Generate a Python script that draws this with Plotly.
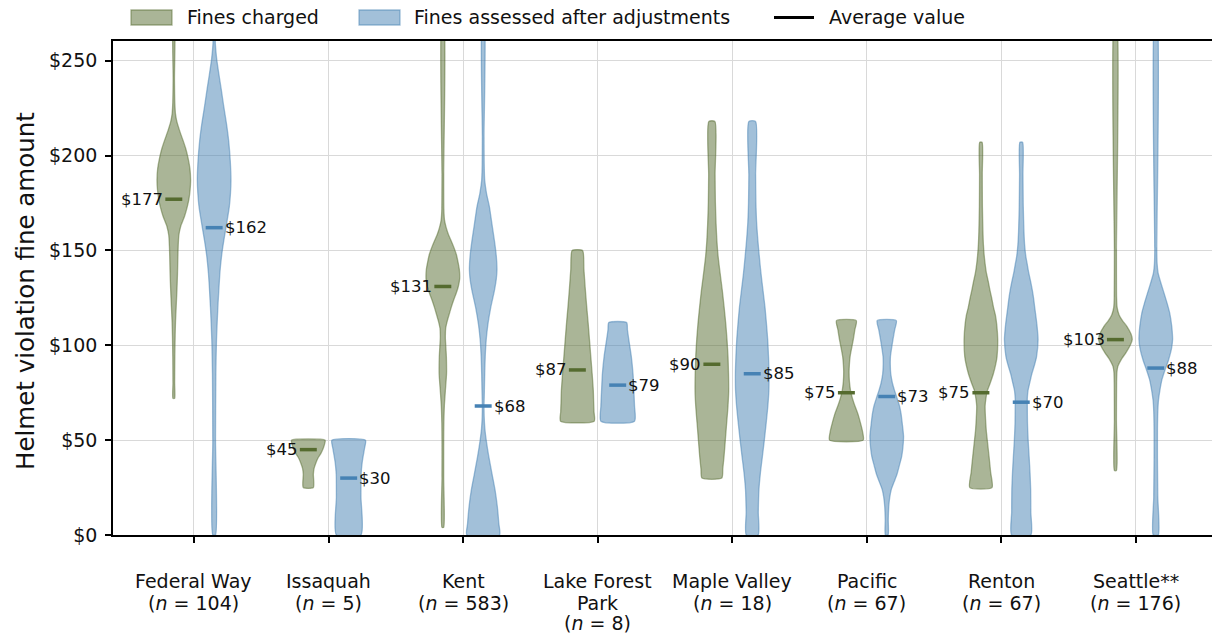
import plotly.graph_objects as go

# Cities along the x axis, with sample sizes
CITIES = ["Federal Way", "Issaquah", "Kent", "Lake Forest|Park", "Maple Valley",
          "Pacific", "Renton", "Seattle**"]
SAMPLE_N = [104, 5, 583, 8, 18, 67, 67, 176]

# Average fine per city
CHARGED_MEAN = [177, 45, 131, 87, 90, 75, 75, 103]
ADJUSTED_MEAN = [162, 30, 68, 79, 85, 73, 70, 88]

# Density profiles: (fine amount, relative density) pairs, densest point = 1
FEDERAL_WAY_CHARGED = [(72, 0.05), (80, 0.05), (94, 0.06), (105, 0.08), (112, 0.1), (120, 0.14),
                       (130, 0.19), (138, 0.22), (146, 0.24), (152, 0.26), (158, 0.3), (163, 0.42),
                       (168, 0.64), (173, 0.8), (177, 0.9), (182, 0.97), (187, 1.0), (193, 0.96),
                       (199, 0.84), (204, 0.7), (208, 0.55), (213, 0.35), (218, 0.18), (222, 0.1),
                       (228, 0.06), (240, 0.04), (275, 0.035)]
FEDERAL_WAY_ADJUSTED = [(0, 0.08), (50, 0.08), (85, 0.1), (103, 0.14), (120, 0.22), (138, 0.34),
                        (147, 0.44), (155, 0.57), (164, 0.74), (173, 0.9), (180, 0.97), (187, 1.0),
                        (197, 0.96), (208, 0.86), (217, 0.73), (226, 0.57), (235, 0.42), (243, 0.28),
                        (251, 0.15), (259, 0.07), (275, 0.03)]
ISSAQUAH_CHARGED = [(25, 0.3), (32, 0.3), (35, 0.34), (38, 0.45), (41, 0.6), (43, 0.75), (46, 0.9),
                    (48, 0.97), (50, 1.0)]
ISSAQUAH_ADJUSTED = [(0, 0.73), (20, 0.73), (32, 0.74), (38, 0.8), (42, 0.87), (46, 0.95), (50, 1.0)]
KENT_CHARGED = [(4, 0.05), (30, 0.05), (50, 0.05), (59, 0.06), (68, 0.09), (76, 0.15), (85, 0.22),
                (94, 0.21), (99, 0.18), (104, 0.15), (109, 0.17), (113, 0.27), (117, 0.4), (120, 0.5),
                (124, 0.65), (127, 0.78), (131, 0.92), (135, 1.0), (140, 0.98), (144, 0.9), (148, 0.8),
                (152, 0.64), (155, 0.5), (158, 0.35), (162, 0.2), (166, 0.1), (172, 0.06), (190, 0.05),
                (275, 0.05)]
KENT_ADJUSTED = [(0, 0.97), (6, 0.93), (15, 0.84), (24, 0.7), (32, 0.53), (41, 0.34), (50, 0.18),
                 (56, 0.1), (62, 0.06), (68, 0.05), (76, 0.07), (85, 0.09), (94, 0.12), (103, 0.18),
                 (111, 0.28), (120, 0.45), (129, 0.67), (135, 0.78), (140, 0.82), (147, 0.78),
                 (155, 0.67), (164, 0.52), (173, 0.37), (180, 0.2), (187, 0.09), (195, 0.06),
                 (210, 0.05), (275, 0.05)]
LAKE_FOREST_PARK_CHARGED = [(60, 1.0), (65, 0.99), (70, 0.97), (76, 0.95), (85, 0.88), (94, 0.8),
                            (103, 0.72), (112, 0.64), (120, 0.56), (130, 0.47), (140, 0.39), (150, 0.31)]
LAKE_FOREST_PARK_ADJUSTED = [(60, 1.0), (68, 1.0), (76, 0.96), (85, 0.91), (94, 0.81), (103, 0.66),
                             (108, 0.58), (112, 0.53)]
MAPLE_VALLEY_CHARGED = [(30, 0.59), (35, 0.65), (41, 0.72), (50, 0.8), (59, 0.88), (68, 0.96), (76, 1.0),
                        (85, 0.99), (94, 0.96), (103, 0.9), (111, 0.83), (120, 0.73), (129, 0.62),
                        (138, 0.49), (147, 0.37), (155, 0.3), (164, 0.25), (175, 0.21), (190, 0.19),
                        (218, 0.18)]
MAPLE_VALLEY_ADJUSTED = [(0, 0.35), (12, 0.36), (24, 0.4), (33, 0.49), (41, 0.6), (50, 0.72), (59, 0.83),
                         (68, 0.93), (76, 0.99), (85, 1.0), (94, 0.97), (103, 0.92), (111, 0.85),
                         (120, 0.76), (129, 0.64), (138, 0.52), (147, 0.42), (155, 0.34), (165, 0.26),
                         (175, 0.22), (190, 0.2), (218, 0.2)]
PACIFIC_CHARGED = [(50, 1.0), (55, 0.95), (59, 0.84), (64, 0.68), (68, 0.51), (72, 0.36), (76, 0.25),
                   (81, 0.18), (86, 0.16), (90, 0.18), (94, 0.22), (98, 0.3), (103, 0.41), (108, 0.5),
                   (113, 0.59)]
PACIFIC_ADJUSTED = [(0, 0.08), (8, 0.09), (15, 0.12), (20, 0.18), (24, 0.27), (28, 0.44), (32, 0.61),
                    (37, 0.76), (41, 0.88), (46, 0.96), (52, 1.0), (59, 0.92), (64, 0.85), (68, 0.76),
                    (72, 0.62), (76, 0.47), (80, 0.34), (85, 0.24), (90, 0.21), (94, 0.22), (98, 0.28),
                    (103, 0.37), (108, 0.47), (113, 0.57)]
RENTON_CHARGED = [(25, 0.66), (33, 0.58), (41, 0.49), (50, 0.38), (55, 0.32), (59, 0.29), (64, 0.26),
                  (68, 0.25), (72, 0.3), (76, 0.38), (80, 0.55), (85, 0.74), (90, 0.88), (94, 0.96),
                  (103, 1.0), (111, 0.94), (116, 0.86), (120, 0.75), (125, 0.64), (129, 0.54),
                  (134, 0.43), (138, 0.33), (143, 0.25), (147, 0.2), (153, 0.15), (160, 0.12),
                  (173, 0.09), (190, 0.08), (207, 0.07)]
RENTON_ADJUSTED = [(0, 0.57), (12, 0.57), (24, 0.56), (33, 0.52), (41, 0.47), (50, 0.41), (59, 0.37),
                   (68, 0.36), (72, 0.36), (76, 0.4), (80, 0.5), (85, 0.63), (90, 0.8), (94, 0.91),
                   (103, 1.0), (111, 0.93), (116, 0.86), (120, 0.8), (125, 0.73), (129, 0.66),
                   (134, 0.55), (138, 0.45), (143, 0.35), (147, 0.27), (153, 0.2), (160, 0.16),
                   (173, 0.12), (190, 0.1), (207, 0.08)]
SEATTLE_CHARGED = [(34, 0.06), (60, 0.06), (80, 0.07), (86, 0.09), (89, 0.15), (93, 0.38), (96, 0.62),
                   (100, 0.88), (103, 1.0), (106, 0.93), (110, 0.68), (113, 0.42), (116, 0.22),
                   (120, 0.1), (125, 0.07), (150, 0.06), (275, 0.06)]
SEATTLE_ADJUSTED = [(0, 0.15), (20, 0.12), (40, 0.1), (55, 0.1), (65, 0.12), (71, 0.16), (76, 0.24),
                    (82, 0.37), (87, 0.55), (92, 0.75), (98, 0.93), (103, 1.0), (110, 0.95), (117, 0.83),
                    (122, 0.68), (127, 0.51), (133, 0.3), (138, 0.14), (143, 0.08), (150, 0.06),
                    (275, 0.06)]

CHARGED_PROFILES = [FEDERAL_WAY_CHARGED, ISSAQUAH_CHARGED, KENT_CHARGED, LAKE_FOREST_PARK_CHARGED,
                    MAPLE_VALLEY_CHARGED, PACIFIC_CHARGED, RENTON_CHARGED, SEATTLE_CHARGED]
ADJUSTED_PROFILES = [FEDERAL_WAY_ADJUSTED, ISSAQUAH_ADJUSTED, KENT_ADJUSTED, LAKE_FOREST_PARK_ADJUSTED,
                     MAPLE_VALLEY_ADJUSTED, PACIFIC_ADJUSTED, RENTON_ADJUSTED, SEATTLE_ADJUSTED]

Y_TICKS = [0, 50, 100, 150, 200, 250]

# Styling
GREEN = "85,107,47"
BLUE = "70,130,180"
OFFSET = 0.15       # violin centre offset from the category tick
HALF_WIDTH = 0.125  # half of the maximum violin width
MEAN_HALF = 0.063   # half length of the average marker
FONT = "DejaVu Sans"
TEXT = "#111111"
W, H = 1212, 635
ML, MR, MT, MB = 113, 0, 41, 100
pw = W - ML - MR
ph = H - MT - MB


def px_x(px):
    return (px - ML) / pw


def px_y(py):
    return (H - MB - py) / ph


def violin_outline(center, profile):
    ys = [p[0] for p in profile]
    ws = [p[1] * HALF_WIDTH for p in profile]
    xs = [center + w for w in ws] + [center - w for w in reversed(ws)]
    yy = ys + ys[::-1]
    return xs + [xs[0]], yy + [yy[0]]


fig = go.Figure()

# Violins: charged to the left of each tick, adjusted to the right
for i in range(len(CITIES)):
    for prof, rgb, sign in ((CHARGED_PROFILES[i], GREEN, -1), (ADJUSTED_PROFILES[i], BLUE, 1)):
        xs, ys = violin_outline(i + sign * OFFSET, prof)
        fig.add_trace(go.Scatter(
            x=xs, y=ys, mode="lines", fill="toself",
            fillcolor=f"rgba({rgb},0.5)",
            line=dict(color=f"rgba({rgb},0.5)", width=1.3, shape="spline", smoothing=0.6),
            hoverinfo="skip", showlegend=False))

# Average markers and their value labels
for i in range(len(CITIES)):
    for mean, rgb, sign in ((CHARGED_MEAN[i], GREEN, -1), (ADJUSTED_MEAN[i], BLUE, 1)):
        c = i + sign * OFFSET
        fig.add_trace(go.Scatter(
            x=[c - MEAN_HALF, c + MEAN_HALF], y=[mean, mean], mode="lines",
            line=dict(color=f"rgb({rgb})", width=3.5),
            hoverinfo="skip", showlegend=False))
        fig.add_annotation(
            x=c + sign * MEAN_HALF, y=mean, text=f"${mean}", showarrow=False,
            xanchor="left" if sign > 0 else "right", yanchor="middle",
            font=dict(family=FONT, size=16.5, color=TEXT))

# Category labels, one text line at a time
LINE_Y = [581, 602.5, 622.5]
for i, (city, n) in enumerate(zip(CITIES, SAMPLE_N)):
    lines = city.split("|") + [f"(<i>n</i> = {n})"]
    for k, line in enumerate(lines):
        fig.add_annotation(x=i, xref="x", yref="paper", y=px_y(LINE_Y[k]), text=line,
                           showarrow=False, xanchor="center", yanchor="middle",
                           font=dict(family=FONT, size=19, color=TEXT))

# Legend drawn as shapes + text above the plot
shapes = []
for x0, rgb in ((131, GREEN), (359, BLUE)):
    shapes.append(dict(type="rect", xref="paper", yref="paper",
                       x0=px_x(x0), x1=px_x(x0 + 41), y0=px_y(25), y1=px_y(10),
                       fillcolor=f"rgba({rgb},0.5)", line=dict(color=f"rgba({rgb},0.5)", width=1.3)))
shapes.append(dict(type="line", xref="paper", yref="paper",
                   x0=px_x(774), x1=px_x(814), y0=px_y(17.5), y1=px_y(17.5),
                   line=dict(color="black", width=3)))
for x0, label in ((185, "Fines charged"), (412, "Fines assessed after adjustments"),
                  (827, "Average value")):
    fig.add_annotation(xref="paper", yref="paper", x=px_x(x0), y=px_y(17.5), text=label,
                       showarrow=False, xanchor="left", yanchor="middle",
                       font=dict(family=FONT, size=19, color=TEXT))

fig.add_annotation(xref="paper", yref="paper", x=px_x(25), y=px_y(291),
                   text="Helmet violation fine amount", textangle=-90, showarrow=False,
                   xanchor="center", yanchor="middle",
                   font=dict(family=FONT, size=24.5, color=TEXT))

fig.update_layout(
    width=W, height=H,
    margin=dict(l=ML, r=MR, t=MT, b=MB),
    plot_bgcolor="white", paper_bgcolor="white",
    showlegend=False,
    shapes=shapes,
    font=dict(family=FONT, color=TEXT),
    xaxis=dict(range=[-0.602, 7.568], tickmode="array", tickvals=list(range(len(CITIES))),
               showticklabels=False, showgrid=True, gridcolor="#d9d9d9", gridwidth=1,
               showline=True, linecolor="black", linewidth=1.6, mirror=True,
               ticks="outside", ticklen=6, tickwidth=1.6, tickcolor="black", zeroline=False),
    yaxis=dict(range=[0, 260.4], tickmode="array", tickvals=Y_TICKS,
               ticktext=[f"${v}" for v in Y_TICKS], showgrid=True, gridcolor="#d9d9d9",
               gridwidth=1, showline=True, linecolor="black", linewidth=1.6,
               ticks="outside", ticklen=6, tickwidth=1.6, tickcolor="black",
               tickfont=dict(family=FONT, size=19, color=TEXT),
               ticklabelstandoff=4, zeroline=False),
)

fig.write_html("out.html")
